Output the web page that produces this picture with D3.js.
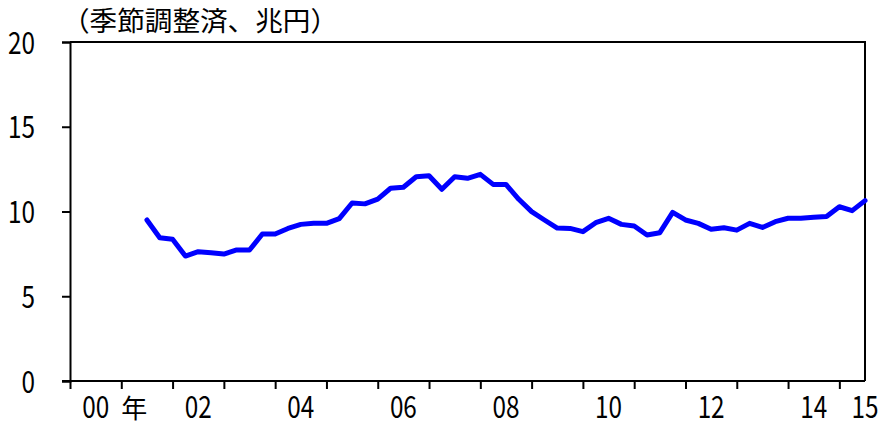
<!DOCTYPE html>
<html><head><meta charset="utf-8">
<script src="https://cdn.jsdelivr.net/npm/d3@7"></script>
<style>
html,body{margin:0;padding:0;background:#fff;}
svg{display:block;}
text{font-family:"Noto Sans CJK JP","Noto Sans",sans-serif;fill:#000;}
</style></head>
<body>
<svg id="chart" width="885" height="427"></svg>
<script>
const unitLabel = "（季節調整済、兆円）";
const quarters = ["2001Q3","2001Q4","2002Q1","2002Q2","2002Q3","2002Q4","2003Q1","2003Q2","2003Q3","2003Q4",
"2004Q1","2004Q2","2004Q3","2004Q4","2005Q1","2005Q2","2005Q3","2005Q4","2006Q1","2006Q2","2006Q3","2006Q4",
"2007Q1","2007Q2","2007Q3","2007Q4","2008Q1","2008Q2","2008Q3","2008Q4","2009Q1","2009Q2","2009Q3","2009Q4",
"2010Q1","2010Q2","2010Q3","2010Q4","2011Q1","2011Q2","2011Q3","2011Q4","2012Q1","2012Q2","2012Q3","2012Q4",
"2013Q1","2013Q2","2013Q3","2013Q4","2014Q1","2014Q2","2014Q3","2014Q4","2015Q1","2015Q2","2015Q3"];
const values = [9.5,8.45,8.36,7.37,7.63,7.57,7.49,7.73,7.73,8.67,
8.67,9.0,9.24,9.3,9.3,9.58,10.5,10.45,10.73,11.37,11.43,12.05,
12.11,11.31,12.05,11.96,12.19,11.6,11.6,10.72,9.99,9.5,9.02,9.0,
8.81,9.34,9.6,9.24,9.14,8.61,8.75,9.95,9.5,9.3,8.95,9.04,
8.9,9.3,9.06,9.4,9.6,9.6,9.66,9.7,10.28,10.05,10.64];
const yTicks = [0,5,10,15,20];
const yearTicks = [2000,2001,2002,2003,2004,2005,2006,2007,2008,2009,2010,2011,2012,2013,2014,2015];
const yearLabels = [
  {year:2000, text:"00"},{year:2002, text:"02"},{year:2004, text:"04"},{year:2006, text:"06"},
  {year:2008, text:"08"},{year:2010, text:"10"},{year:2012, text:"12"},{year:2014, text:"14"},{year:2015, text:"15"}
];
const yearSuffix = "年";

(function(){
const svg = d3.select("#chart");
const mL = 70, mR = 865, mT = 42, mB = 381;
const digitW = 13.5, fs = 31;
const x = d3.scaleLinear().domain([2000, 2015.5]).range([mL, mR]);
const y = d3.scaleLinear().domain([0, 20]).range([mB, mT]);
const qPos = q => +q.slice(0,4) + (+q.slice(5) - 1) / 4;

svg.append("path")
  .attr("d", `M${mL},${mT}H${mR}V${mB}`)
  .attr("fill","none").attr("stroke","#000").attr("stroke-width",2);

const yAxis = svg.append("g").attr("transform",`translate(${mL},0)`)
  .call(d3.axisLeft(y).tickValues(yTicks).tickSize(8).tickPadding(27).tickFormat(d3.format("d")));
yAxis.select(".domain").attr("stroke-width",2);
yAxis.selectAll(".tick line").attr("stroke-width",2);
yAxis.selectAll("text")
  .attr("font-size",fs).attr("font-family",'"Noto Sans CJK JP",sans-serif')
  .attr("dy","0.36em")
  .attr("textLength", d => String(d).length * digitW).attr("lengthAdjust","spacingAndGlyphs");

const xAxis = svg.append("g").attr("transform",`translate(0,${mB})`)
  .call(d3.axisBottom(x).tickValues(yearTicks).tickSize(8).tickFormat(""));
xAxis.select(".domain").attr("stroke-width",2).attr("d",`M${mL - 8},0H${mR}`);
xAxis.selectAll(".tick line").attr("stroke-width",2);

svg.append("g").selectAll("text").data(yearLabels).join("text")
  .attr("x", d => x(d.year + 0.5)).attr("y", 418)
  .attr("text-anchor","middle").attr("font-size",fs)
  .attr("textLength", d => d.text.length * digitW).attr("lengthAdjust","spacingAndGlyphs")
  .text(d => d.text);
svg.append("text").attr("x", x(2001)).attr("y", 418)
  .attr("font-size",26).text(yearSuffix);

svg.append("text").attr("x", 62).attr("y", 31).attr("font-size",27)
  .attr("textLength",276).attr("lengthAdjust","spacingAndGlyphs").text(unitLabel);

const line = d3.line().x((d,i) => x(qPos(quarters[i]))).y(d => y(d));
svg.append("path").datum(values)
  .attr("d", line).attr("fill","none").attr("stroke","#0000FF")
  .attr("stroke-width",5).attr("stroke-linejoin","round").attr("stroke-linecap","round");
})();
</script>
</body></html>
